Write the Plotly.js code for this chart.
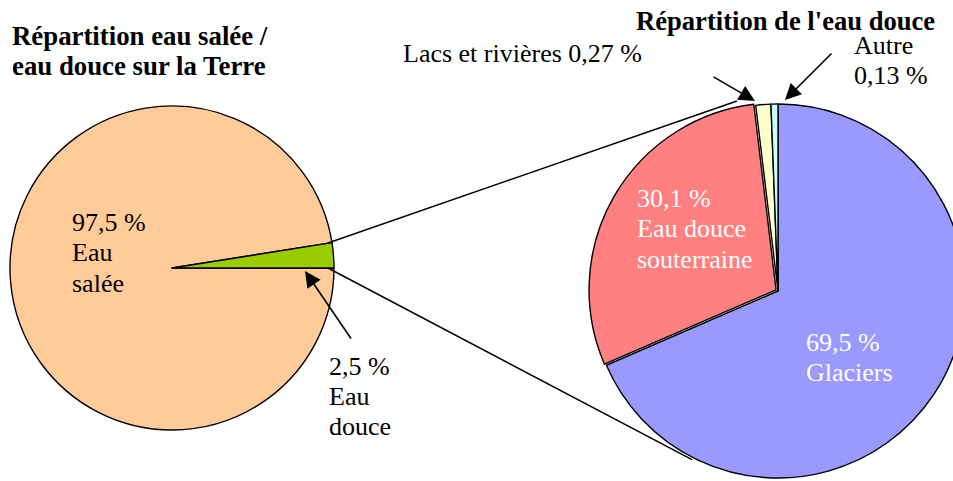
<!DOCTYPE html>
<html><head><meta charset="utf-8">
<script src="https://cdn.plot.ly/plotly-3.0.1.min.js"></script>
<style>html,body{margin:0;padding:0;overflow:hidden;background:#fff}#chart{width:1000px;height:500px}</style>
</head><body><div id="chart"></div><script>
// ---- data ----
const earthCategories = ['Eau salée', 'Eau douce'];
const earthPercent = [97.5, 2.5];
const earthColors = ['#FFCC99', '#99CC00'];

const freshCategories = ['Glaciers', 'Eau douce souterraine', 'Lacs et rivières', 'Autre'];
const freshPercent = [69.5, 30.1, 0.27, 0.13];
// slice sizes as they are drawn in the picture (the two small slices are enlarged)
const freshDrawnShare = [68.5, 29.6, 1.3, 0.6];
const freshColors = ['#9999FF', '#FF8080', '#FFFFCC', '#CCFFFF'];

const titleLeft = ['Répartition eau salée /', 'eau douce sur la Terre'];
const titleRight = "Répartition de l'eau douce";

// ---- layout helpers ----
const W = 1000, H = 500;
const X = px => px / W;
const Y = py => 1 - py / H;
const fmt = v => v.toString().replace('.', ',') + ' %';
const FONT = 'Liberation Serif';
const FS = 26;

const annotations = [];
function textLines(lines, x, baseline0, step, opts) {
  opts = opts || {};
  const fs = opts.size || FS;
  lines.forEach((t, i) => {
    const b = baseline0 + i * step;
    annotations.push({
      xref: 'paper', yref: 'paper', x: X(x - 1), y: Y(b - 0.34 * fs),
      xanchor: 'left', yanchor: 'middle', showarrow: false,
      text: opts.bold ? '<b>' + t + '</b>' : t,
      font: {family: FONT, size: fs, color: opts.color || '#000'}
    });
  });
}
function arrow(tail, tip) {
  annotations.push({
    xref: 'paper', yref: 'paper', x: X(tip[0]), y: Y(tip[1]),
    ax: tail[0] - tip[0], ay: tail[1] - tip[1], axref: 'pixel', ayref: 'pixel',
    text: '', showarrow: true, arrowhead: 2, arrowsize: 2, arrowwidth: 1.6,
    arrowcolor: '#000', standoff: 0, startstandoff: 0
  });
}

textLines(titleLeft, 11, 45, 30.5, {bold: true, size: 26.8});
textLines([titleRight], 635, 30, 30, {bold: true, size: 26.6});
textLines([freshCategories[2] + ' ' + fmt(freshPercent[2])], 402, 62, 30);
textLines([freshCategories[3], fmt(freshPercent[3])], 853, 54, 30);
textLines([fmt(earthPercent[0]), 'Eau', 'salée'], 71, 231, 30.5);
textLines([fmt(earthPercent[1]), 'Eau', 'douce'], 328, 375, 30);
textLines([fmt(freshPercent[1]), 'Eau douce', 'souterraine'], 636, 207, 30.5, {color: '#fff'});
textLines([fmt(freshPercent[0]), freshCategories[0]], 805, 351, 30, {color: '#fff'});

arrow([712, 76], [755, 101]);
arrow([833, 52], [785, 100]);
arrow([352, 340], [305, 271]);

const lineStyle = {color: '#000', width: 1.5};
const shapes = [
  {type: 'line', xref: 'paper', yref: 'paper', x0: X(328), y0: Y(243), x1: X(737), y1: Y(101), line: lineStyle},
  {type: 'line', xref: 'paper', yref: 'paper', x0: X(328), y0: Y(268), x1: X(692), y1: Y(459.7), line: lineStyle}
];

// left pie: centre (172,268) r 162
const leftPie = {
  type: 'pie', labels: earthCategories, values: earthPercent, sort: false,
  direction: 'clockwise', rotation: 90, textinfo: 'none', hoverinfo: 'label+percent',
  marker: {colors: earthColors, line: {color: '#000', width: 1.4}},
  domain: {x: [X(10), X(334)], y: [Y(430), Y(106)]}, showlegend: false
};
// right pie: centre (778,291) r 187
const pull = 0.012;
const s = 187 * (1 + pull);
const rightPie = {
  type: 'pie', labels: freshCategories, values: freshDrawnShare, sort: false,
  direction: 'clockwise', rotation: 0, textinfo: 'none', hoverinfo: 'label',
  pull: [0, pull, 0, 0],
  marker: {colors: freshColors, line: {color: '#000', width: 1.4}},
  domain: {x: [X(778 - s), X(778 + s)], y: [Y(291 + s), Y(291 - s)]}, showlegend: false
};

Plotly.newPlot('chart', [leftPie, rightPie], {
  width: W, height: H, margin: {l: 0, r: 0, t: 0, b: 0},
  paper_bgcolor: '#fff', plot_bgcolor: '#fff', showlegend: false,
  font: {family: FONT},
  annotations: annotations, shapes: shapes
}, {displayModeBar: false, staticPlot: true});
</script></body></html>
